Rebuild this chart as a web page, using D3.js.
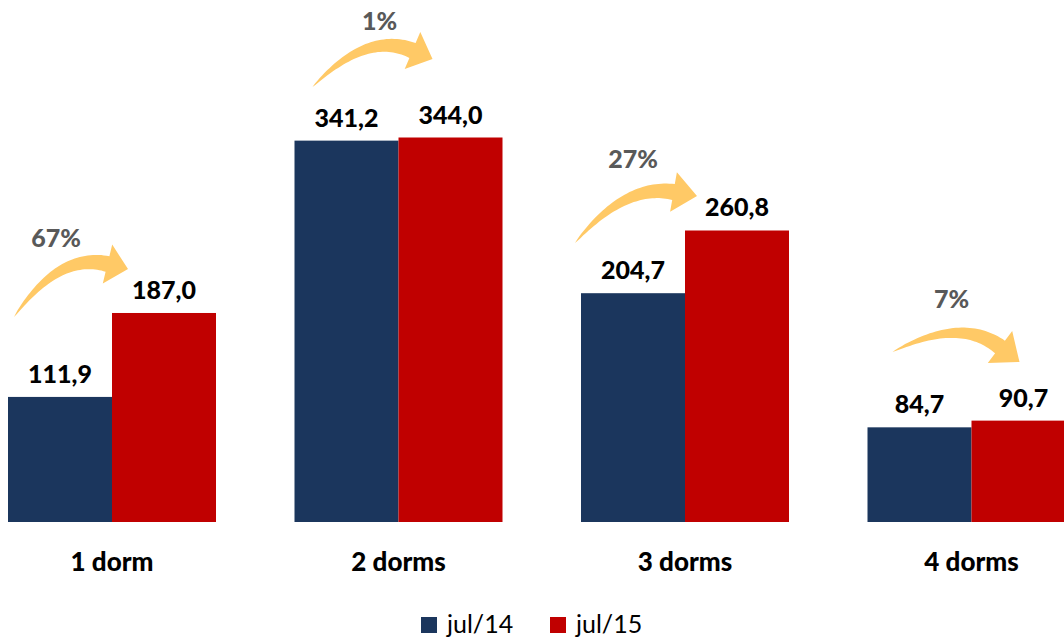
<!DOCTYPE html>
<html>
<head>
<meta charset="utf-8">
<script src="https://cdn.jsdelivr.net/npm/d3@7"></script>
<style>
  body { margin: 0; background: #fff; }
  svg { display: block; font-family: Lato, "Open Sans", sans-serif; }
</style>
</head>
<body>
<div id="chart"></div>
<script>
// data
var categories = ["1 dorm", "2 dorms", "3 dorms", "4 dorms"];
var seriesNames = ["jul/14", "jul/15"];
var jul14 = [111.9, 341.2, 204.7, 84.7];
var jul15 = [187.0, 344.0, 260.8, 90.7];
var growth = ["67%", "1%", "27%", "7%"];

// arrow layout (pixel offsets from left edge of each group)
var arrowLayout = [
  {tail: [6, 317],   base: [99.5, 264],  tip: [120, 269]},
  {tail: [18, 87],   base: [118, 50.5],  tip: [138, 59]},
  {tail: [-6, 243],  base: [92.5, 192],  tip: [116, 196]},
  {tail: [25, 352],  base: [132.5, 347], tip: [152, 362]}
];
var pctPos = [[48, 247], [85, 30], [52, 168], [84, 308]];

var colors = ["#1b365d", "#c00000"];
var width = 1064, height = 639;

var svg = d3.select("#chart").append("svg")
  .attr("width", width)
  .attr("height", height);

var x0 = d3.scaleBand()
  .domain(categories)
  .range([8, 1075.5])
  .paddingInner(0.274)
  .paddingOuter(0);

var x1 = d3.scaleBand()
  .domain(seriesNames)
  .range([0, x0.bandwidth()]);

var y = d3.scaleLinear()
  .domain([0, 344])
  .range([522, 137.5]);

var fmt = function(v) { return d3.format(".1f")(v).replace(".", ","); };

var rows = categories.map(function(c, i) {
  return {cat: c, vals: [jul14[i], jul15[i]]};
});

// bars
var groups = svg.selectAll(".grp")
  .data(rows)
  .enter().append("g")
  .attr("class", "grp")
  .attr("transform", function(d) { return "translate(" + x0(d.cat) + ",0)"; });

groups.selectAll("rect")
  .data(function(d) { return d.vals.map(function(v, j) { return {s: seriesNames[j], v: v, j: j}; }); })
  .enter().append("rect")
  .attr("x", function(d) { return x1(d.s); })
  .attr("y", function(d) { return y(d.v); })
  .attr("width", x1.bandwidth())
  .attr("height", function(d) { return y(0) - y(d.v); })
  .attr("fill", function(d) { return colors[d.j]; });

// value labels
groups.selectAll(".val")
  .data(function(d) { return d.vals.map(function(v, j) { return {s: seriesNames[j], v: v}; }); })
  .enter().append("text")
  .attr("class", "val")
  .attr("x", function(d) { return x1(d.s) + x1.bandwidth() / 2; })
  .attr("y", function(d) { return y(d.v) - 14; })
  .attr("text-anchor", "middle")
  .style("font-size", "25px")
  .style("font-weight", "900")
  .style("fill", "#000")
  .text(function(d) { return fmt(d.v); });

// category labels
svg.selectAll(".cat")
  .data(categories)
  .enter().append("text")
  .attr("x", function(d) { return x0(d) + x0.bandwidth() / 2; })
  .attr("y", 571)
  .attr("text-anchor", "middle")
  .style("font-size", "26px")
  .style("font-weight", "900")
  .style("fill", "#000")
  .text(function(d) { return d; });

// curved growth arrows
function arrowPath(a, gx) {
  var T = [gx + a.tail[0], a.tail[1]];
  var B = [gx + a.base[0], a.base[1]];
  var P = [gx + a.tip[0], a.tip[1]];
  var dx = P[0] - B[0], dy = P[1] - B[1];
  var len = Math.sqrt(dx * dx + dy * dy);
  var ux = dx / len, uy = dy / len;
  var C = [B[0] - ux * 50, B[1] - uy * 50];
  var wmax = 16, hw = 20;
  var upper = [], lower = [];
  for (var i = 0; i <= 40; i++) {
    var t = i / 40;
    var px = (1 - t) * (1 - t) * T[0] + 2 * (1 - t) * t * C[0] + t * t * B[0];
    var py = (1 - t) * (1 - t) * T[1] + 2 * (1 - t) * t * C[1] + t * t * B[1];
    var tx = 2 * (1 - t) * (C[0] - T[0]) + 2 * t * (B[0] - C[0]);
    var ty = 2 * (1 - t) * (C[1] - T[1]) + 2 * t * (B[1] - C[1]);
    var tl = Math.sqrt(tx * tx + ty * ty);
    var nx = ty / tl, ny = -tx / tl;
    var w = wmax / 2 * Math.pow(t, 0.7);
    upper.push([px + nx * w, py + ny * w]);
    lower.push([px - nx * w, py - ny * w]);
  }
  var nX = uy, nY = -ux;
  var pts = upper.concat([
    [B[0] + nX * hw, B[1] + nY * hw],
    P,
    [B[0] - nX * hw, B[1] - nY * hw]
  ]).concat(lower.reverse());
  return "M" + pts.map(function(p) { return p[0].toFixed(1) + "," + p[1].toFixed(1); }).join("L") + "Z";
}

svg.selectAll(".arrow")
  .data(categories)
  .enter().append("path")
  .attr("class", "arrow")
  .attr("d", function(d, i) { return arrowPath(arrowLayout[i], x0(d)); })
  .attr("fill", "#ffc966");

svg.selectAll(".pct")
  .data(growth)
  .enter().append("text")
  .attr("x", function(d, i) { return x0(categories[i]) + pctPos[i][0]; })
  .attr("y", function(d, i) { return pctPos[i][1]; })
  .attr("text-anchor", "middle")
  .style("font-size", "25px")
  .style("font-weight", "900")
  .style("fill", "#595959")
  .text(function(d) { return d; });

// legend
var legend = svg.selectAll(".leg")
  .data(seriesNames)
  .enter().append("g")
  .attr("transform", function(d, i) { return "translate(" + (421 + i * 129) + ",617)"; });

legend.append("rect")
  .attr("width", 16)
  .attr("height", 16)
  .attr("fill", function(d, i) { return colors[i]; });

legend.append("text")
  .attr("x", 26)
  .attr("y", 16)
  .style("font-size", "25px")
  .style("fill", "#000")
  .text(function(d) { return d; });
</script>
</body>
</html>
